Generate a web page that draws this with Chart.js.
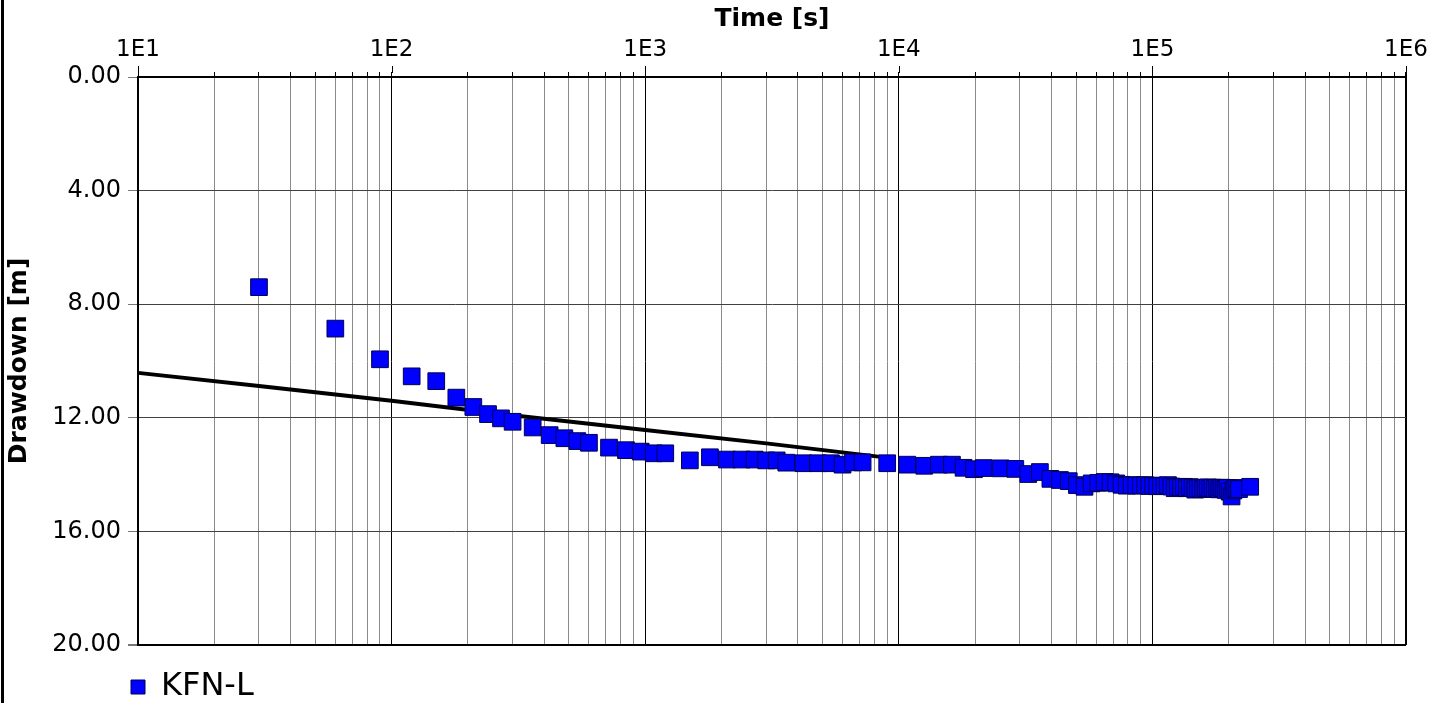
<!DOCTYPE html>
<html>
<head>
<meta charset="utf-8">
<script src="https://cdn.jsdelivr.net/npm/chart.js@4.4.1/dist/chart.umd.min.js"></script>
<style>
  html, body { margin: 0; padding: 0; background: #fff; }
  #wrap { position: relative; width: 1450px; height: 703px; }
  #edge { position: absolute; left: 1px; top: 0; width: 3px; height: 703px; background: #000; }
</style>
</head>
<body>
<div id="wrap">
  <canvas id="myChart" width="1450" height="703"></canvas>
  <div id="edge"></div>
</div>
<script>
var seriesName = 'KFN-L';

// observed drawdown, time in seconds
var timeSec = [
  30, 60, 90, 120, 150, 180, 210, 240, 270, 300,
  360, 420, 480, 540, 600, 720, 840, 960, 1080, 1200,
  1500, 1800, 2100, 2400, 2700, 3000, 3300, 3600, 4200, 4800,
  5400, 6000, 6600, 7200, 9000, 10800, 12600, 14400, 16200, 18000,
  19800, 21600, 25200, 28800, 32400, 36000, 39600, 43200, 46800,
  50400, 54000, 57600, 61200, 64800, 68400, 72000, 75600, 79200, 82800,
  86400, 90000, 93600, 97200, 100800, 104400, 108000, 111600, 115200, 118800,
  122400, 126000, 129600, 133200, 136800, 140400, 144000, 147600, 151200, 154800,
  158400, 162000, 165600, 169200, 172800, 176400, 180000, 183600, 187200, 190800,
  194400, 198000, 201600, 205200, 208800, 212400, 216000, 219600, 243000
];
var drawdown = [
  7.40, 8.86, 9.94, 10.54, 10.71, 11.29, 11.62, 11.87, 12.02, 12.14,
  12.34, 12.61, 12.72, 12.82, 12.88, 13.05, 13.14, 13.19, 13.25, 13.25,
  13.50, 13.39, 13.47, 13.47, 13.47, 13.50, 13.50, 13.58, 13.60, 13.60,
  13.60, 13.65, 13.57, 13.57, 13.60, 13.65, 13.69, 13.65, 13.65, 13.76,
  13.81, 13.77, 13.78, 13.80, 13.98, 13.91, 14.15, 14.19, 14.23,
  14.37, 14.43, 14.31, 14.29, 14.26, 14.27, 14.31, 14.36, 14.39, 14.37,
  14.39, 14.38, 14.37, 14.40, 14.39, 14.41, 14.39, 14.40, 14.37, 14.42,
  14.48, 14.43, 14.45, 14.43, 14.48, 14.44, 14.47, 14.53, 14.49, 14.46,
  14.51, 14.47, 14.45, 14.49, 14.46, 14.50, 14.47, 14.52, 14.46, 14.49,
  14.54, 14.47, 14.60, 14.77, 14.56, 14.50, 14.47, 14.51, 14.43
];

// fitted straight line
var fitTime = [10, 30, 100, 300, 1000, 3000, 9500];
var fitDrawdown = [10.42, 10.88, 11.40, 11.91, 12.43, 12.90, 13.43];

var decades = [1, 2, 3, 4, 5, 6];          // 1E1 .. 1E6
var minorSteps = [1, 2, 3, 4, 5, 6, 7, 8, 9];
var yTicks = [0, 4, 8, 12, 16, 20];

var xTickValues = [];
decades.forEach(function (d) {
  if (d === 6) { xTickValues.push(1e6); return; }
  minorSteps.forEach(function (m) { xTickValues.push(m * Math.pow(10, d)); });
});

function isDecade(v) {
  var e = Math.log10(v);
  return Math.abs(e - Math.round(e)) < 1e-9;
}

var points = timeSec.map(function (t, i) { return { x: t, y: drawdown[i] }; });
var fitPoints = fitTime.map(function (t, i) { return { x: t, y: fitDrawdown[i] }; });

Chart.defaults.font.family = '"DejaVu Sans", Verdana, sans-serif';
Chart.defaults.color = '#000';

var majorTicks = {
  id: 'majorTicks',
  afterDraw: function (chart) {
    var xs = chart.scales.x;
    var ctx = chart.ctx;
    ctx.save();
    ctx.strokeStyle = '#000';
    ctx.lineWidth = 1;
    decades.forEach(function (d) {
      var px = Math.round(xs.getPixelForValue(Math.pow(10, d))) + 0.5;
      ctx.beginPath();
      ctx.moveTo(px, xs.bottom - 11);
      ctx.lineTo(px, xs.bottom - 4);
      ctx.stroke();
    });
    ctx.restore();
  }
};

var legendPlace = {
  id: 'legendPlace',
  afterLayout: function (chart) {
    var lg = chart.legend;
    var dx = 131 - 26 - lg.left;
    lg.left += dx;
    lg.right += dx;
  }
};

new Chart(document.getElementById('myChart').getContext('2d'), {
  type: 'scatter',
  data: {
    datasets: [
      {
        label: seriesName,
        data: points,
        pointStyle: 'rect',
        pointRadius: 11.8,
        backgroundColor: '#0000ff',
        borderColor: '#000050',
        borderWidth: 1
      },
      {
        label: 'fit',
        data: fitPoints,
        showLine: true,
        pointRadius: 0,
        borderColor: '#000',
        borderWidth: 3.8,
        fill: false
      }
    ]
  },
  options: {
    responsive: false,
    devicePixelRatio: 1,
    animation: false,
    layout: { padding: { left: 1, top: 0, right: 44, bottom: -10 } },
    plugins: {
      tooltip: { enabled: false },
      legend: {
        position: 'bottom',
        align: 'start',
        onClick: function (e) { e.native && e.native.stopPropagation(); },
        labels: {
          boxWidth: 14,
          boxHeight: 14,
          padding: 26,
          font: { size: 32 },
          filter: function (item) { return item.datasetIndex === 0; }
        }
      }
    },
    scales: {
      x: {
        type: 'logarithmic',
        position: 'top',
        min: 10,
        max: 1e6,
        afterBuildTicks: function (scale) {
          scale.ticks = xTickValues.map(function (v) { return { value: v }; });
        },
        afterFit: function (scale) { scale.height = 77; },
        title: {
          display: true,
          text: 'Time [s]',
          font: { size: 25, weight: 'bold' },
          padding: { top: 4, bottom: 4 }
        },
        ticks: {
          autoSkip: false,
          maxRotation: 0,
          padding: 8,
          font: { size: 23 },
          callback: function (value) {
            return isDecade(value) ? '1E' + Math.round(Math.log10(value)) : '';
          }
        },
        grid: {
          tickLength: 5,
          tickColor: '#000',
          color: function (c) { return c.tick && isDecade(c.tick.value) ? '#000' : '#8a8a8a'; },
          lineWidth: function (c) { return c.tick && c.tick.value === 1e6 ? 2 : 1; }
        },
        border: { color: '#000', width: 2 }
      },
      y: {
        reverse: true,
        min: 0,
        max: 20,
        afterBuildTicks: function (scale) {
          scale.ticks = yTicks.map(function (v) { return { value: v }; });
        },
        afterFit: function (scale) { scale.width = 137; },
        title: {
          display: true,
          text: 'Drawdown [m]',
          font: { size: 25, weight: 'bold' },
          padding: { top: 3, bottom: 4 }
        },
        ticks: {
          padding: 7,
          font: { size: 24 },
          callback: function (value) { return Number(value).toFixed(2); }
        },
        grid: {
          tickLength: 10,
          tickColor: '#777',
          color: function (c) { return c.tick && c.tick.value === 20 ? '#000' : '#404040'; },
          lineWidth: function (c) { return c.tick && c.tick.value === 20 ? 2 : 1; }
        },
        border: { color: '#000', width: 2 }
      }
    }
  },
  plugins: [majorTicks, legendPlace]
});
</script>
</body>
</html>
